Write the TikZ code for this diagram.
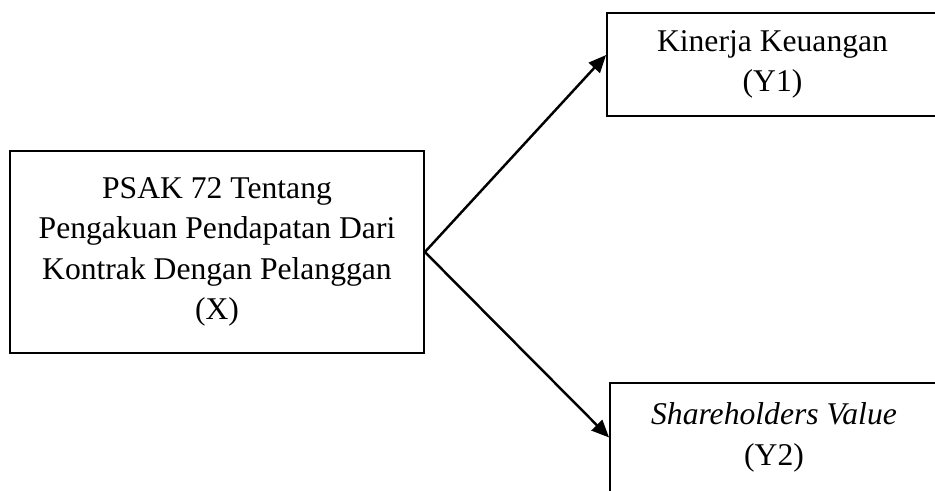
\documentclass[tikz,border=0pt]{standalone}
\usepackage{fontspec}
\setmainfont{Liberation Serif}
\usetikzlibrary{arrows.meta}

\tikzset{
    varbox/.style={draw, line width=1pt, rectangle, align=center, inner sep=0pt,
        font=\fontsize{18}{23}\selectfont},
    varline/.style={line width=1.4pt, -{Triangle[length=10pt,width=8.5pt]}}
}

\begin{document}
\begin{tikzpicture}

        \clip (00.00,00.00) rectangle (18.70,09.80);

        % PSAK 72 (X)
        \node [varbox, minimum width=8.28cm, minimum height=4.04cm] (psak) at (04.34,04.76)
            {PSAK 72 Tentang\\Pengakuan Pendapatan Dari\\Kontrak Dengan Pelanggan\\(X)};

        % Kinerja Keuangan (Y1)
        \node [varbox, minimum width=6.62cm, minimum height=2.06cm] (kinerja) at (15.45,08.51)
            {Kinerja Keuangan\\(Y1)};

        % Shareholders Value (Y2)
        \node [varbox, minimum width=6.56cm, minimum height=2.18cm] (shv) at (15.48,01.05)
            {\textit{Shareholders Value}\\(Y2)};

        % X -> Y1
        \draw [varline] (psak.east) -- ([yshift=0.19cm]kinerja.west);

        % X -> Y2
        \draw [varline] (psak.east) -- (shv.west);

    \end{tikzpicture}
\end{document}
